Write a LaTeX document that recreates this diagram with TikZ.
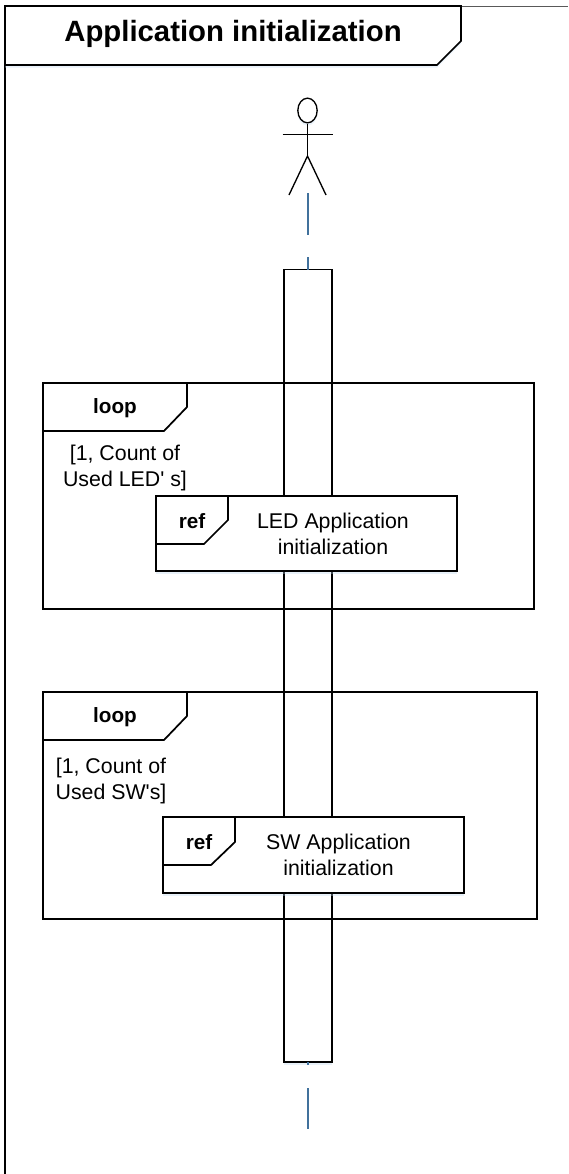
\documentclass[tikz,border=0pt]{standalone}
\usepackage{fontspec}
\usepackage{xcolor}
\usepackage{tikz}
\usetikzlibrary{positioning,shapes,arrows,shadows}
\newfontfamily\diagfont{Liberation Sans}
\definecolor{lifeblue}{RGB}{65,113,156}
\definecolor{glowblue}{RGB}{190,215,240}

\begin{document}
\begin{tikzpicture}
            [x=.75pt,y=-.75pt,font=\diagfont,
            glow/.style={drop shadow={shadow xshift=0pt,shadow yshift=-2pt,fill=glowblue,opacity=.35}},
            frameline/.style={draw=black,line width=1.3pt},
            framebox/.style={frameline,anchor=north west,inner sep=0pt,outer sep=0pt,fill=white,glow},
            loopbox/.style={frameline,anchor=north west,inner sep=0pt,outer sep=0pt},
            lifeline/.style={draw=lifeblue,line width=1.6pt},
            tabtext/.style={font=\diagfont\fontsize{15.5}{18}\selectfont\bfseries,inner sep=0pt},
            bodytext/.style={font=\diagfont\fontsize{16}{19}\selectfont,align=center,inner sep=0pt}]
            \useasboundingbox (0,0) rectangle (568,1174);
            \fill[white] (0,0) rectangle (568,1174);

            % outer frame and its title
            \coordinate (outertl) at (5,6);
            \coordinate (outerbl) at (5,1174);
            \coordinate (outertr) at (568,6);
            \coordinate (titletr) at (461,6);
            \draw[black!65,line width=.5pt] (titletr) -- (outertr);
            \draw[frameline] (outertl) -- (outerbl);
            \draw[frameline,fill=white,glow] (outertl) -- (titletr) -- (461,41) -- (437,65) -- (5,65) -- cycle;
            \node[font=\diagfont\fontsize{22}{26}\selectfont\bfseries,inner sep=0pt] (title) at (233,34) {Application initialization};

            % actor
            \node[draw=black,line width=1pt,fill=white,ellipse,inner sep=0pt,minimum width=14.5pt,minimum height=18.5pt,glow] (head) at (307.5,110.5) {};
            \coordinate (hip) at (307.5,156);
            \coordinate (armleft) at (282.5,134.5);
            \coordinate (armright) at (332.5,134.5);
            \coordinate (footleft) at (289,195);
            \coordinate (footright) at (326,195);
            \draw[black,line width=1pt] (head) -- (hip);
            \draw[black,line width=1pt] (armleft) -- (armright);
            \draw[black,line width=1pt] (footleft) -- (hip) -- (footright);

            % activation bar and lifeline
            \node[framebox,minimum width=36pt,minimum height=594.4pt] (bar) at (283.7,269.5) {};
            \coordinate (lifetop) at (bar.north |- 0,193);
            \coordinate (lifeend) at (bar.south |- 0,1129);
            \draw[lifeline,dash pattern=on 31.5pt off 16.5pt] (lifetop) -- (bar.north);
            \draw[lifeline,dash pattern=on 30.75pt off 17.25pt,dash phase=28.5pt] (bar.south) -- (lifeend);

            % loop frames
            \node[loopbox,minimum width=368.25pt,minimum height=169.5pt] (loopa) at (43,383) {};
            \node[loopbox,minimum width=370.5pt,minimum height=170pt] (loopb) at (43,692) {};
            \draw[frameline,fill=white] (loopa.north west) -- (187,383) -- (187,407) -- (164,431) -- (43,431) -- cycle;
            \draw[frameline,fill=white] (loopb.north west) -- (187,692) -- (187,716) -- (164,740) -- (43,740) -- cycle;
            \node[tabtext] (loopatext) at (115,408) {loop};
            \node[tabtext] (loopbtext) at (115,717) {loop};
            \node[bodytext] (guarda) at (125,468) {[1, Count of\\Used LED' s]};
            \node[bodytext] (guardb) at (111,781) {[1, Count of\\Used SW's]};

            % ref boxes
            \node[framebox,minimum width=225.75pt,minimum height=56.25pt] (refa) at (156,496) {};
            \node[framebox,minimum width=225.75pt,minimum height=57pt] (refb) at (163,817) {};
            \draw[frameline,fill=white] (refa.north west) -- (228,496) -- (228,520) -- (204,544) -- (156,544) -- cycle;
            \draw[frameline,fill=white] (refb.north west) -- (235,817) -- (235,842) -- (211,865) -- (163,865) -- cycle;
            \node[tabtext] (refatext) at (192,521) {ref};
            \node[tabtext] (refbtext) at (199,842) {ref};
            \node[bodytext] (leda) at (333,534) {LED Application\\initialization};
            \node[bodytext] (swa) at (338.5,855) {SW Application\\initialization};
          \end{tikzpicture}
\end{document}
